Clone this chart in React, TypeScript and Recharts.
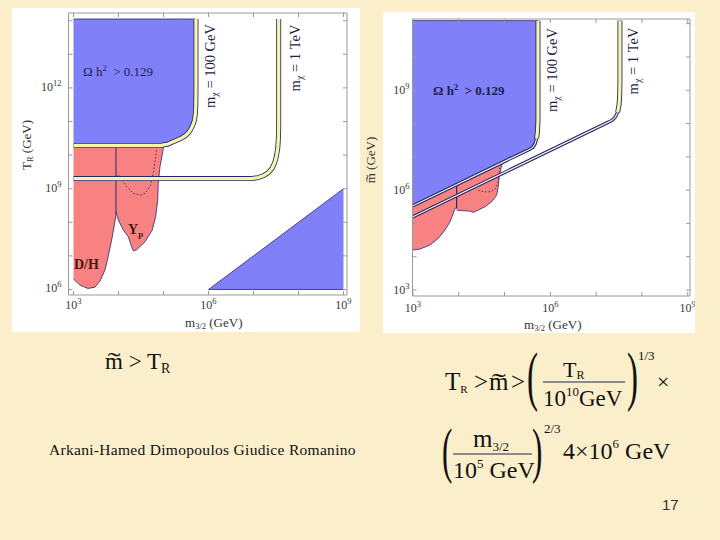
import React from 'react';
import { Area, ComposedChart, Line, XAxis, YAxis } from 'recharts';

const BLUE = '#8080f8';
const RED = '#f88282';
const NAVY = '#26266e';
const BAND = '#f6f6a4';
const FRAME = '#9a9a9a';
const SERIF = '"Liberation Serif", "Times New Roman", serif';

// every axis value is log10 of the quantity in GeV
const xTicks = [3, 4, 5, 6, 7, 8, 9];
const xLabels = [3, 6, 9];
const leftYTicks = [6, 7, 8, 9, 10, 11, 12, 13, 14];
const leftYLabels = [6, 9, 12];
const rightYTicks = [3, 4, 5, 6, 7, 8, 9, 10, 11];
const rightYLabels = [3, 6, 9];

// left panel: T_R against m_3/2
const LEFT_TOP = 14.05;
const leftBand100 = [
  { x: 3, y: 10.286 }, { x: 4.944, y: 10.286 }, { x: 5.1, y: 10.33 }, { x: 5.256, y: 10.42 },
  { x: 5.38, y: 10.49 }, { x: 5.478, y: 10.57 }, { x: 5.56, y: 10.67 }, { x: 5.611, y: 10.78 },
  { x: 5.66, y: 10.92 }, { x: 5.689, y: 11.04 }, { x: 5.71, y: 11.25 }, { x: 5.718, y: 11.49 },
  { x: 5.722, y: 11.9 }, { x: 5.722, y: 14.05 },
];
const leftBand1000 = [
  { x: 3, y: 9.3 }, { x: 6.95, y: 9.3 }, { x: 7.1, y: 9.33 }, { x: 7.23, y: 9.39 },
  { x: 7.33, y: 9.48 }, { x: 7.41, y: 9.6 }, { x: 7.47, y: 9.77 }, { x: 7.51, y: 9.97 },
  { x: 7.54, y: 10.22 }, { x: 7.555, y: 10.55 }, { x: 7.56, y: 10.9 }, { x: 7.56, y: 14.05 },
];
const leftDH = [
  { x: 3, lo: 6.31, hi: 10.286 }, { x: 3.144, lo: 6.13, hi: 10.286 }, { x: 3.322, lo: 6.03, hi: 10.286 },
  { x: 3.478, lo: 6.07, hi: 10.286 }, { x: 3.589, lo: 6.25, hi: 10.286 }, { x: 3.7, lo: 6.58, hi: 10.286 },
  { x: 3.767, lo: 6.96, hi: 10.286 }, { x: 3.844, lo: 7.44, hi: 10.286 }, { x: 3.9, lo: 7.86, hi: 10.286 },
  { x: 3.944, lo: 8.22, hi: 10.286 },
];
const leftYp = [
  { x: 3.944, lo: 8.31, hi: 10.286 }, { x: 3.996, lo: 8.07, hi: 10.286 }, { x: 4.107, lo: 7.77, hi: 10.286 },
  { x: 4.218, lo: 7.57, hi: 10.286 }, { x: 4.293, lo: 7.27, hi: 10.286 }, { x: 4.329, lo: 7.15, hi: 10.286 },
  { x: 4.404, lo: 7.18, hi: 10.286 }, { x: 4.589, lo: 7.42, hi: 10.286 }, { x: 4.751, lo: 7.77, hi: 10.286 },
  { x: 4.827, lo: 8.17, hi: 10.286 }, { x: 4.871, lo: 8.66, hi: 10.286 }, { x: 4.884, lo: 9.16, hi: 10.286 },
  { x: 4.922, lo: 9.65, hi: 10.286 }, { x: 4.996, lo: 10.2, hi: 10.286 }, { x: 5.01, lo: 10.286, hi: 10.286 },
];
const leftYpDotted = [
  { x: 4.849, y: 10.25 }, { x: 4.827, y: 9.95 }, { x: 4.773, y: 9.46 }, { x: 4.7, y: 9.06 },
  { x: 4.589, y: 8.86 }, { x: 4.478, y: 8.81 }, { x: 4.329, y: 8.86 }, { x: 4.182, y: 9.06 },
  { x: 4.071, y: 9.26 }, { x: 3.996, y: 9.41 },
];
const leftSeparator = [{ x: 3.944, y: 8.22 }, { x: 3.944, y: 10.286 }];
const leftTriangle = [{ x: 6, lo: 6, hi: 6 }, { x: 9, lo: 6, hi: 9 }];

// right panel: m~ against m_3/2
const RIGHT_TOP = 11.09;
const rightBand100 = [
  { x: 3, y: 5.53 }, { x: 5.55, y: 7.23 }, { x: 5.62, y: 7.29 }, { x: 5.67, y: 7.4 },
  { x: 5.7, y: 7.55 }, { x: 5.72, y: 7.78 }, { x: 5.73, y: 8.1 }, { x: 5.73, y: 8.5 }, { x: 5.73, y: 11.09 },
];
const rightBand1000 = [
  { x: 3, y: 5.2 }, { x: 7.28, y: 8.05 }, { x: 7.36, y: 8.11 }, { x: 7.42, y: 8.2 },
  { x: 7.47, y: 8.34 }, { x: 7.5, y: 8.56 }, { x: 7.515, y: 8.85 }, { x: 7.52, y: 9.25 }, { x: 7.52, y: 11.09 },
];
const rightDH = [
  { x: 3, lo: 4.2, hi: 5.53 }, { x: 3.153, lo: 4.23, hi: 5.63 }, { x: 3.371, lo: 4.35, hi: 5.78 },
  { x: 3.552, lo: 4.55, hi: 5.9 }, { x: 3.699, lo: 4.8, hi: 6.0 }, { x: 3.808, lo: 5.05, hi: 6.07 },
  { x: 3.88, lo: 5.3, hi: 6.12 }, { x: 3.917, lo: 5.45, hi: 6.14 }, { x: 3.954, lo: 5.47, hi: 6.17 },
];
const rightYp = [
  { x: 3.954, lo: 5.4, hi: 6.17 }, { x: 4.098, lo: 5.38, hi: 6.26 }, { x: 4.245, lo: 5.37, hi: 6.36 },
  { x: 4.317, lo: 5.33, hi: 6.41 }, { x: 4.426, lo: 5.4, hi: 6.48 }, { x: 4.572, lo: 5.5, hi: 6.58 },
  { x: 4.718, lo: 5.65, hi: 6.68 }, { x: 4.827, lo: 5.85, hi: 6.75 }, { x: 4.862, lo: 6.1, hi: 6.77 },
  { x: 4.884, lo: 6.4, hi: 6.79 }, { x: 4.937, lo: 6.75, hi: 6.82 }, { x: 4.987, lo: 6.855, hi: 6.855 },
];
const rightYpDotted = [
  { x: 4.9, y: 6.78 }, { x: 4.885, y: 6.55 }, { x: 4.86, y: 6.25 }, { x: 4.8, y: 6.05 },
  { x: 4.7, y: 5.95 }, { x: 4.55, y: 5.95 }, { x: 4.42, y: 6.0 },
];
const rightSeparator = [{ x: 3.954, y: 5.45 }, { x: 3.954, y: 6.17 }];

const toRange = (rows: { x: number; lo: number; hi: number }[]) => rows.map((d) => ({ x: d.x, r: [d.lo, d.hi] }));
const relicFrom = (band: { x: number; y: number }[], top: number) => [
  ...band.map((p) => ({ x: p.x, r: [p.y, top] })),
  { x: band[band.length - 1].x, r: [top, top] },
];

type Side = 'bottom' | 'top' | 'left' | 'right';

const makeTick = (side: Side, labels: number[], gap: number, vshift = 0) => (props: any) => {
  const { x, y, payload } = props;
  const v = payload.value;
  const n = 4;
  const m =
    side === 'bottom' ? [x, y, x, y - n] : side === 'top' ? [x, y, x, y + n] : side === 'left' ? [x, y, x + n, y] : [x, y, x - n, y];
  const show = labels.includes(v);
  return (
    <g>
      <line x1={m[0]} y1={m[1]} x2={m[2]} y2={m[3]} stroke={FRAME} strokeWidth={1} />
      {show && side === 'bottom' && (
        <text x={x} y={y + gap} textAnchor="middle" fontFamily={SERIF} fontSize={12} fill="#3a3a3a">
          10<tspan dy={-5} fontSize={8.5}>{v}</tspan>
        </text>
      )}
      {show && side === 'left' && (
        <text x={x - gap} y={y + vshift} textAnchor="end" fontFamily={SERIF} fontSize={12} fill="#3a3a3a">
          10<tspan dy={-5} fontSize={8.5}>{v}</tspan>
        </text>
      )}
    </g>
  );
};

const Frame = ({ xDomain, yDomain, yTicks, yLabels, xGap, yGap, yShift, widths }: any) => [
  <XAxis
    key="xb"
    xAxisId={0}
    type="number"
    dataKey="x"
    domain={xDomain}
    allowDataOverflow
    ticks={xTicks}
    interval={0}
    height={widths.bottom}
    tickSize={0}
    tickMargin={0}
    tickLine={false}
    axisLine={{ stroke: FRAME }}
    tick={makeTick('bottom', xLabels, xGap)}
  />,
  <XAxis
    key="xt"
    xAxisId="top"
    orientation="top"
    type="number"
    dataKey="x"
    domain={xDomain}
    allowDataOverflow
    ticks={xTicks}
    interval={0}
    height={widths.top}
    tickSize={0}
    tickMargin={0}
    tickLine={false}
    axisLine={{ stroke: FRAME }}
    tick={makeTick('top', [], 0)}
  />,
  <YAxis
    key="yl"
    yAxisId={0}
    type="number"
    domain={yDomain}
    allowDataOverflow
    ticks={yTicks}
    interval={0}
    width={widths.left}
    tickSize={0}
    tickMargin={0}
    tickLine={false}
    axisLine={{ stroke: FRAME }}
    tick={makeTick('left', yLabels, yGap, yShift)}
  />,
  <YAxis
    key="yr"
    yAxisId="right"
    orientation="right"
    type="number"
    domain={yDomain}
    allowDataOverflow
    ticks={yTicks}
    interval={0}
    width={widths.right}
    tickSize={0}
    tickMargin={0}
    tickLine={false}
    axisLine={{ stroke: FRAME }}
    tick={makeTick('right', [], 0)}
  />,
];

const Region = ({ data, fill }: any) => (
  <Area
    data={data}
    dataKey="r"
    type="linear"
    fill={fill}
    fillOpacity={1}
    stroke={NAVY}
    strokeWidth={0.8}
    dot={false}
    activeDot={false}
    isAnimationActive={false}
  />
);

const lineProps = { dataKey: 'y', type: 'linear' as const, dot: false, activeDot: false, isAnimationActive: false };

const Abs = ({ x, y, fs, children, style }: any) => (
  <div
    style={{
      position: 'absolute',
      left: x,
      top: y - 0.84 * fs,
      fontSize: fs,
      lineHeight: 1,
      whiteSpace: 'nowrap',
      fontFamily: SERIF,
      color: '#111',
      ...style,
    }}
  >
    {children}
  </div>
);

const Rot = ({ x, y, fs, children, style }: any) => (
  <div
    style={{
      position: 'absolute',
      left: x,
      top: y,
      transform: 'translate(-50%, -50%) rotate(-90deg)',
      fontSize: fs,
      lineHeight: 1,
      whiteSpace: 'nowrap',
      fontFamily: SERIF,
      color: '#1e1e44',
      ...style,
    }}
  >
    {children}
  </div>
);

const Sub = ({ children, fs, dy }: any) => (
  <span style={{ fontSize: fs, position: 'relative', top: dy }}>{children}</span>
);

const Tilde = ({ children }: any) => (
  <span style={{ position: 'relative', display: 'inline-block' }}>
    {children}
    <span
      style={{
        position: 'absolute',
        left: 0,
        width: '100%',
        textAlign: 'center',
        top: '0.02em',
        transform: 'scaleX(1.7)',
      }}
    >
      ˜
    </span>
  </span>
);

const Paren = ({ x, y, fs, ch }: any) => (
  <div
    style={{
      position: 'absolute',
      left: x,
      top: y - 0.84 * fs,
      fontSize: fs,
      lineHeight: 1,
      fontFamily: SERIF,
      color: '#111',
      transform: 'scaleX(0.5)',
      transformOrigin: 'left top',
      fontWeight: 300,
    }}
  >
    {ch}
  </div>
);

const Bar = ({ x, y, w }: any) => (
  <div style={{ position: 'absolute', left: x, top: y, width: w, height: 1.5, background: '#8a8a8a' }} />
);

export default function App() {
  return (
    <div
      style={{
        position: 'absolute',
        left: 0,
        top: 0,
        width: 720,
        height: 540,
        overflow: 'hidden',
        background: '#fbeecb',
        fontFamily: SERIF,
      }}
    >
      {/* left panel */}
      <div style={{ position: 'absolute', left: 12, top: 8, width: 348, height: 324, background: '#fff' }}>
        <ComposedChart width={348} height={324} margin={{ top: 0, right: 8, bottom: 0, left: 0 }}>
          {Frame({
            xDomain: [2.889, 9.078],
            yDomain: [5.836, 14.229],
            yTicks: leftYTicks,
            yLabels: leftYLabels,
            xGap: 14,
            yGap: 7,
            yShift: 3,
            widths: { left: 56.5, right: 5, top: 5, bottom: 37 },
          })}
          {Region({ data: relicFrom(leftBand100, LEFT_TOP), fill: BLUE })}
          {Region({ data: toRange(leftTriangle), fill: BLUE })}
          {Region({ data: toRange(leftDH), fill: RED })}
          {Region({ data: toRange(leftYp), fill: RED })}
          <Line {...lineProps} data={leftSeparator} stroke={NAVY} strokeWidth={1} />
          <Line {...lineProps} data={leftYpDotted} stroke={NAVY} strokeWidth={0.9} strokeDasharray="1.5 2" />
          <Line {...lineProps} data={leftBand100} stroke={NAVY} strokeWidth={5} />
          <Line {...lineProps} data={leftBand100} stroke={BAND} strokeWidth={3.3} />
          <Line {...lineProps} data={leftBand1000} stroke={NAVY} strokeWidth={5} />
          <Line {...lineProps} data={leftBand1000} stroke={BAND} strokeWidth={3.3} />
        </ComposedChart>
      </div>

      {/* right panel */}
      <div style={{ position: 'absolute', left: 383, top: 12, width: 312, height: 321, background: '#fff' }}>
        <ComposedChart width={312} height={321} margin={{ top: 0, right: 0, bottom: 0, left: 0 }}>
          {Frame({
            xDomain: [2.99, 9.05],
            yDomain: [2.82, 11.14],
            yTicks: rightYTicks,
            yLabels: rightYLabels,
            xGap: 16,
            yGap: 3,
            yShift: 4,
            widths: { left: 29.5, right: 5, top: 7, bottom: 37 },
          })}
          {Region({ data: relicFrom(rightBand100, RIGHT_TOP), fill: BLUE })}
          {Region({ data: toRange(rightDH), fill: RED })}
          {Region({ data: toRange(rightYp), fill: RED })}
          <Line {...lineProps} data={rightSeparator} stroke={NAVY} strokeWidth={1.2} />
          <Line {...lineProps} data={rightYpDotted} stroke={NAVY} strokeWidth={0.9} strokeDasharray="1.5 2" />
          <Line {...lineProps} data={rightBand100} stroke={NAVY} strokeWidth={3.4} />
          <Line {...lineProps} data={rightBand100} stroke="#eeeed8" strokeWidth={1.2} />
          <Line {...lineProps} data={rightBand100.slice(4)} stroke={NAVY} strokeWidth={5} />
          <Line {...lineProps} data={rightBand100.slice(4)} stroke={BAND} strokeWidth={3.2} />
          <Line {...lineProps} data={rightBand1000} stroke={NAVY} strokeWidth={3.4} />
          <Line {...lineProps} data={rightBand1000} stroke="#eeeed8" strokeWidth={1.2} />
          <Line {...lineProps} data={rightBand1000.slice(4)} stroke={NAVY} strokeWidth={5} />
          <Line {...lineProps} data={rightBand1000.slice(4)} stroke={BAND} strokeWidth={3.2} />
        </ComposedChart>
      </div>

      {/* annotations, left panel */}
      <Abs x={83} y={76} fs={13} style={{ color: '#1e1e50' }}>
        Ω h<Sub fs={8.5} dy={-5}>2</Sub>&nbsp; &gt; 0.129
      </Abs>
      <Rot x={210} y={66} fs={14.5}>
        m<Sub fs={10} dy={3}>χ</Sub> = 100 GeV
      </Rot>
      <Rot x={295} y={58} fs={14.5}>
        m<Sub fs={10} dy={3}>χ</Sub> = 1 TeV
      </Rot>
      <Abs x={128} y={235} fs={14} style={{ fontWeight: 700, color: '#4a1414' }}>
        Y<Sub fs={9} dy={3}>p</Sub>
      </Abs>
      <Abs x={74} y={270} fs={14} style={{ fontWeight: 700, color: '#4a1414' }}>
        D/H
      </Abs>
      <Rot x={26} y={145} fs={13} style={{ color: '#333' }}>
        T<Sub fs={8.5} dy={2}>R</Sub> (GeV)
      </Rot>
      <Abs x={185} y={327} fs={13} style={{ color: '#333' }}>
        m<Sub fs={8.5} dy={2}>3/2</Sub> (GeV)
      </Abs>

      {/* annotations, right panel */}
      <Abs x={433} y={95} fs={13} style={{ fontWeight: 700, color: '#1e1e50' }}>
        Ω h<Sub fs={8.5} dy={-5}>2</Sub>&nbsp; &gt; 0.129
      </Abs>
      <Rot x={552} y={70} fs={14.5}>
        m<Sub fs={10} dy={3}>χ</Sub> = 100 GeV
      </Rot>
      <Rot x={633} y={61} fs={14.5}>
        m<Sub fs={10} dy={3}>χ</Sub> = 1 TeV
      </Rot>
      <Rot x={370} y={160} fs={13} style={{ color: '#333' }}>
        <Tilde>m</Tilde> (GeV)
      </Rot>
      <Abs x={524} y={329} fs={13} style={{ color: '#333' }}>
        m<Sub fs={8.5} dy={2}>3/2</Sub> (GeV)
      </Abs>

      {/* slide text */}
      <Abs x={105} y={369} fs={23}>
        <Tilde>m</Tilde> &gt; T<Sub fs={14} dy={4}>R</Sub>
      </Abs>
      <Abs x={49} y={455} fs={15.5} style={{ letterSpacing: 0.3 }}>
        Arkani-Hamed Dimopoulos Giudice Romanino
      </Abs>

      <Abs x={445} y={390} fs={25}>
        T<Sub fs={11} dy={3}>R</Sub>
      </Abs>
      <Abs x={474} y={390} fs={25}>&gt;</Abs>
      <Abs x={489} y={390} fs={25}>
        <Tilde>m</Tilde>
      </Abs>
      <Abs x={511} y={390} fs={25}>&gt;</Abs>
      <Paren x={527} y={398} fs={66} ch="(" />
      <Abs x={563} y={377} fs={22}>
        T<Sub fs={12} dy={2}>R</Sub>
      </Abs>
      <Bar x={543} y={381} w={82} />
      <Abs x={543} y={406} fs={23}>
        10<Sub fs={13} dy={-10}>10</Sub>GeV
      </Abs>
      <Paren x={627} y={398} fs={66} ch=")" />
      <Abs x={638} y={360} fs={13}>1/3</Abs>
      <Abs x={657} y={389} fs={22}>×</Abs>

      <Paren x={442} y={471} fs={62} ch="(" />
      <Abs x={473} y={447} fs={25}>
        m<Sub fs={13} dy={4}>3/2</Sub>
      </Abs>
      <Bar x={453} y={453} w={79} />
      <Abs x={453} y={478} fs={24}>
        10<Sub fs={13} dy={-10}>5</Sub> GeV
      </Abs>
      <Paren x={532} y={471} fs={62} ch=")" />
      <Abs x={544} y={433} fs={13}>2/3</Abs>
      <Abs x={563} y={459} fs={24}>
        4×10<Sub fs={13} dy={-11}>6</Sub> GeV
      </Abs>

      <Abs x={662} y={510} fs={15} style={{ fontFamily: '"Liberation Sans", Arial, sans-serif', color: '#333' }}>
        17
      </Abs>
    </div>
  );
}
